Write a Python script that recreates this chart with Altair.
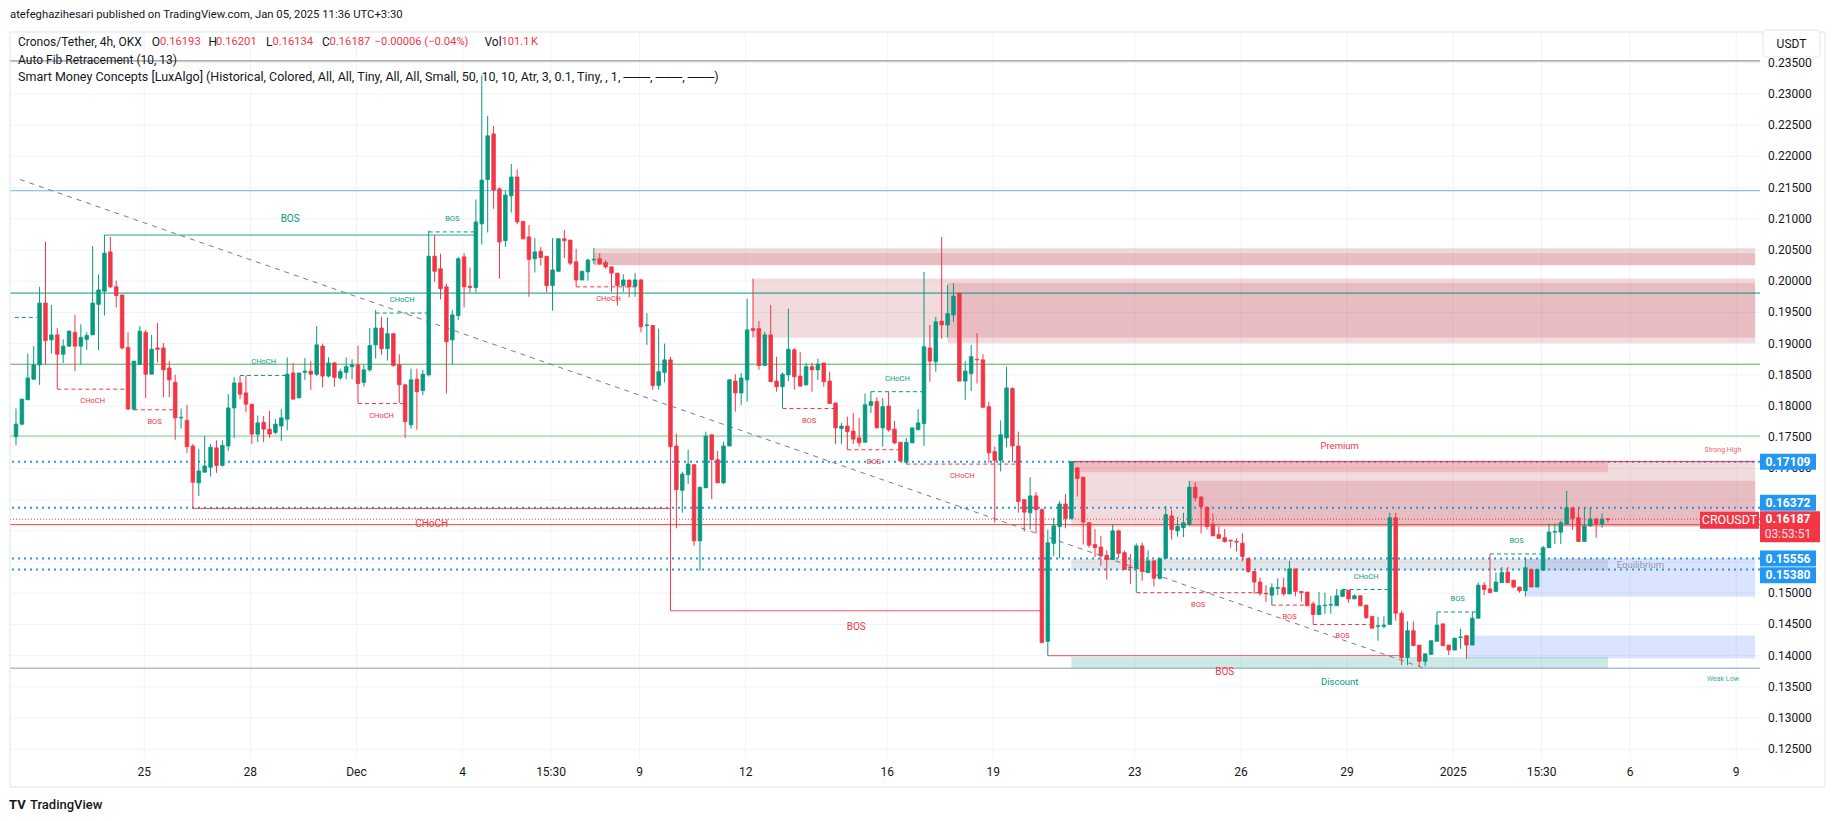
import altair as alt
import pandas as pd

# ---------------- candle data (CRO/USDT 4h) ----------------
OPEN = [0.1751,0.1771,0.1810,0.1843,0.1866,0.1965,0.1906,0.1914,0.1883,0.1896,
0.1918,0.1896,0.1907,0.1914,0.1963,0.1984,0.2047,0.1991,0.1978,0.1894,
0.1795,0.1867,0.1918,0.1851,0.1893,0.1893,0.1861,0.1838,0.1781,0.1777,
0.1736,0.1677,0.1694,0.1702,0.1733,0.1705,0.1736,0.1797,0.1837,0.1821,
0.1803,0.1755,0.1774,0.1763,0.1758,0.1768,0.1779,0.1853,0.1813,0.1854,
0.1856,0.1851,0.1896,0.1848,0.1869,0.1845,0.1854,0.1863,0.1866,0.1838,
0.1858,0.1898,0.1925,0.1892,0.1916,0.1866,0.1834,0.1770,0.1843,0.1825,
0.1850,0.2040,0.2020,0.1991,0.1906,0.1945,0.2039,0.1992,0.1990,0.2092,
0.2163,0.2236,0.2148,0.2065,0.2137,0.2167,0.2096,0.2071,0.2036,0.2048,
0.2040,0.1993,0.2016,0.2068,0.2066,0.2031,0.2002,0.2015,0.2034,0.2036,
0.2030,0.2023,0.2013,0.1993,0.2002,0.1992,0.2002,0.1929,0.1929,0.1833,
0.1854,0.1874,0.1736,0.1665,0.1690,0.1706,0.1584,0.1669,0.1754,0.1714,
0.1677,0.1736,0.1840,0.1821,0.1842,0.1924,0.1924,0.1865,0.1914,0.1840,
0.1831,0.1850,0.1890,0.1848,0.1834,0.1863,0.1858,0.1869,0.1840,0.1805,
0.1764,0.1768,0.1760,0.1749,0.1742,0.1801,0.1807,0.1765,0.1800,0.1763,
0.1742,0.1710,0.1741,0.1762,0.1772,0.1893,0.1871,0.1936,0.1930,0.1946,
0.1981,0.1840,0.1852,0.1875,0.1874,0.1799,0.1727,0.1713,0.1749,0.1828,
0.1736,0.1650,0.1629,0.1656,0.1634,0.1423,0.1580,0.1607,0.1643,0.1620,
0.1701,0.1686,0.1613,0.1578,0.1574,0.1561,0.1554,0.1600,0.1565,0.1542,
0.1540,0.1576,0.1533,0.1552,0.1524,0.1556,0.1624,0.1600,0.1605,0.1611,
0.1670,0.1654,0.1638,0.1611,0.1594,0.1589,0.1585,0.1583,0.1580,0.1556,
0.1535,0.1518,0.1500,0.1497,0.1508,0.1509,0.1499,0.1539,0.1503,0.1502,
0.1483,0.1466,0.1480,0.1481,0.1480,0.1495,0.1505,0.1491,0.1496,0.1481,
0.1463,0.1447,0.1447,0.1450,0.1621,0.1468,0.1397,0.1440,0.1417,0.1391,
0.1402,0.1423,0.1451,0.1417,0.1409,0.1429,0.1432,0.1417,0.1460,0.1513,
0.1507,0.1503,0.1517,0.1534,0.1521,0.1510,0.1504,0.1538,0.1510,0.1537,
0.1573,0.1598,0.1598,0.1611,0.1637,0.1621,0.1583,0.1608,0.1619,0.1611,
0.16193]

HIGH = [0.1796,0.1812,0.1884,0.1896,0.1991,0.2063,0.1962,0.1925,0.1907,0.1921,
0.1946,0.1931,0.1918,0.2056,0.2011,0.2074,0.2071,0.2001,0.1978,0.1918,
0.1872,0.1928,0.1922,0.1914,0.1933,0.1901,0.1872,0.1850,0.1796,0.1802,
0.1739,0.1731,0.1752,0.1739,0.1745,0.1745,0.1819,0.1846,0.1848,0.1849,
0.1803,0.1785,0.1784,0.1792,0.1779,0.1795,0.1878,0.1869,0.1853,0.1877,
0.1872,0.1928,0.1900,0.1878,0.1871,0.1860,0.1878,0.1875,0.1897,0.1866,
0.1925,0.1954,0.1943,0.1942,0.1916,0.1883,0.1836,0.1860,0.1860,0.1858,
0.2081,0.2074,0.2044,0.1996,0.1954,0.2039,0.2045,0.2022,0.2131,0.2330,
0.2265,0.2249,0.2150,0.2145,0.2188,0.2179,0.2096,0.2090,0.2069,0.2055,
0.2040,0.2069,0.2069,0.2082,0.2066,0.2052,0.2016,0.2036,0.2053,0.2045,
0.2034,0.2023,0.2013,0.2011,0.2002,0.2013,0.2004,0.1949,0.1929,0.1924,
0.1900,0.1879,0.1756,0.1695,0.1730,0.1707,0.1670,0.1759,0.1754,0.1728,
0.1743,0.1843,0.1851,0.1853,0.1972,0.2004,0.1936,0.1919,0.1962,0.1879,
0.1854,0.1956,0.1893,0.1887,0.1869,0.1869,0.1876,0.1869,0.1855,0.1805,
0.1773,0.1783,0.1789,0.1781,0.1820,0.1823,0.1814,0.1813,0.1823,0.1776,
0.1742,0.1749,0.1765,0.1795,0.2015,0.1930,0.1943,0.2071,0.1994,0.1997,
0.1981,0.1872,0.1898,0.1917,0.1883,0.1807,0.1735,0.1777,0.1863,0.1830,
0.1759,0.1650,0.1686,0.1662,0.1636,0.1602,0.1621,0.1648,0.1659,0.1711,
0.1701,0.1686,0.1613,0.1603,0.1592,0.1569,0.1611,0.1602,0.1568,0.1563,
0.1580,0.1581,0.1569,0.1552,0.1556,0.1640,0.1634,0.1622,0.1629,0.1680,
0.1678,0.1656,0.1638,0.1628,0.1607,0.1603,0.1586,0.1588,0.1596,0.1556,
0.1536,0.1525,0.1513,0.1516,0.1524,0.1525,0.1552,0.1539,0.1503,0.1502,
0.1487,0.1502,0.1501,0.1496,0.1507,0.1507,0.1505,0.1498,0.1496,0.1481,
0.1463,0.1462,0.1463,0.1629,0.1629,0.1472,0.1455,0.1455,0.1417,0.1403,
0.1424,0.1470,0.1451,0.1417,0.1428,0.1443,0.1432,0.1470,0.1517,0.1518,
0.1563,0.1533,0.1542,0.1542,0.1521,0.1510,0.1557,0.1538,0.1538,0.1576,
0.1612,0.1612,0.1616,0.1664,0.1637,0.1637,0.1637,0.1637,0.1621,0.1628,
0.16201]

LOW = [0.1737,0.1769,0.1810,0.1842,0.1834,0.1866,0.1884,0.1827,0.1869,0.1895,
0.1856,0.1867,0.1890,0.1914,0.1890,0.1945,0.1989,0.1958,0.1891,0.1795,
0.1793,0.1867,0.1813,0.1851,0.1870,0.1814,0.1814,0.1746,0.1764,0.1725,
0.1636,0.1656,0.1694,0.1687,0.1693,0.1703,0.1728,0.1749,0.1811,0.1790,
0.1739,0.1742,0.1742,0.1749,0.1755,0.1744,0.1761,0.1811,0.1813,0.1842,
0.1826,0.1848,0.1830,0.1846,0.1831,0.1842,0.1843,0.1843,0.1805,0.1831,
0.1855,0.1876,0.1882,0.1873,0.1863,0.1805,0.1749,0.1764,0.1762,0.1817,
0.1847,0.1999,0.1971,0.1820,0.1867,0.1938,0.1958,0.1982,0.1982,0.2059,
0.2078,0.2116,0.2004,0.2055,0.2110,0.2091,0.2067,0.1975,0.2014,0.2025,
0.1982,0.1953,0.2015,0.2037,0.2026,0.1991,0.2002,0.2001,0.2028,0.2026,
0.2020,0.1983,0.1961,0.1983,0.1974,0.1975,0.1918,0.1898,0.1826,0.1826,
0.1838,0.1472,0.1604,0.1629,0.1675,0.1576,0.1536,0.1669,0.1651,0.1677,
0.1675,0.1736,0.1791,0.1802,0.1807,0.1910,0.1858,0.1865,0.1839,0.1823,
0.1797,0.1840,0.1826,0.1831,0.1833,0.1823,0.1842,0.1831,0.1804,0.1739,
0.1739,0.1730,0.1739,0.1735,0.1742,0.1789,0.1765,0.1735,0.1759,0.1739,
0.1712,0.1707,0.1741,0.1762,0.1736,0.1839,0.1855,0.1908,0.1910,0.1935,
0.1840,0.1810,0.1824,0.1836,0.1798,0.1709,0.1613,0.1695,0.1734,0.1710,
0.1629,0.1599,0.1602,0.1596,0.1421,0.1400,0.1560,0.1556,0.1604,0.1618,
0.1655,0.1578,0.1573,0.1558,0.1544,0.1522,0.1554,0.1556,0.1538,0.1515,
0.1502,0.1520,0.1533,0.1511,0.1522,0.1556,0.1586,0.1591,0.1590,0.1608,
0.1647,0.1596,0.1602,0.1592,0.1588,0.1581,0.1573,0.1567,0.1551,0.1533,
0.1499,0.1496,0.1486,0.1481,0.1497,0.1496,0.1499,0.1495,0.1487,0.1480,
0.1451,0.1466,0.1467,0.1467,0.1480,0.1494,0.1485,0.1491,0.1479,0.1459,
0.1444,0.1424,0.1444,0.1450,0.1456,0.1385,0.1385,0.1416,0.1383,0.1383,
0.1402,0.1423,0.1416,0.1401,0.1409,0.1411,0.1395,0.1417,0.1460,0.1497,
0.1501,0.1503,0.1517,0.1517,0.1508,0.1501,0.1495,0.1510,0.1510,0.1537,
0.1573,0.1579,0.1579,0.1611,0.1602,0.1583,0.1583,0.1607,0.1589,0.1605,
0.16134]

CLOSE = [0.1771,0.1811,0.1845,0.1866,0.1965,0.1905,0.1914,0.1883,0.1896,0.1920,
0.1896,0.1910,0.1913,0.1965,0.1986,0.2045,0.1991,0.1977,0.1893,0.1795,
0.1872,0.1920,0.1851,0.1891,0.1891,0.1858,0.1842,0.1781,0.1782,0.1735,
0.1678,0.1696,0.1704,0.1734,0.1705,0.1737,0.1797,0.1837,0.1819,0.1803,
0.1755,0.1773,0.1763,0.1755,0.1771,0.1781,0.1851,0.1811,0.1853,0.1856,
0.1851,0.1898,0.1848,0.1869,0.1846,0.1855,0.1863,0.1866,0.1836,0.1858,
0.1897,0.1925,0.1892,0.1916,0.1865,0.1834,0.1775,0.1842,0.1823,0.1851,
0.2040,0.2016,0.1988,0.1903,0.1946,0.2036,0.1991,0.1990,0.2095,0.2162,
0.2233,0.2146,0.2063,0.2138,0.2167,0.2095,0.2068,0.2035,0.2047,0.2038,
0.1993,0.2018,0.2068,0.2065,0.2029,0.2002,0.2016,0.2034,0.2035,0.2028,
0.2023,0.2013,0.1993,0.2002,0.1991,0.2002,0.1927,0.1930,0.1833,0.1855,
0.1874,0.1735,0.1666,0.1691,0.1707,0.1584,0.1670,0.1752,0.1714,0.1677,
0.1736,0.1842,0.1821,0.1845,0.1922,0.1921,0.1865,0.1914,0.1839,0.1831,
0.1851,0.1891,0.1847,0.1832,0.1863,0.1858,0.1867,0.1839,0.1804,0.1765,
0.1768,0.1759,0.1747,0.1741,0.1802,0.1807,0.1765,0.1799,0.1762,0.1741,
0.1712,0.1742,0.1765,0.1773,0.1895,0.1872,0.1935,0.1930,0.1948,0.1976,
0.1840,0.1856,0.1879,0.1874,0.1798,0.1725,0.1713,0.1754,0.1829,0.1736,
0.1647,0.1630,0.1656,0.1634,0.1421,0.1581,0.1608,0.1643,0.1620,0.1711,
0.1684,0.1614,0.1577,0.1573,0.1560,0.1554,0.1600,0.1564,0.1538,0.1541,
0.1576,0.1535,0.1552,0.1524,0.1556,0.1626,0.1602,0.1607,0.1613,0.1670,
0.1653,0.1639,0.1607,0.1592,0.1588,0.1583,0.1584,0.1582,0.1559,0.1535,
0.1518,0.1500,0.1499,0.1509,0.1509,0.1499,0.1539,0.1503,0.1501,0.1480,
0.1466,0.1480,0.1481,0.1482,0.1496,0.1505,0.1491,0.1496,0.1480,0.1461,
0.1444,0.1448,0.1449,0.1621,0.1468,0.1397,0.1440,0.1416,0.1391,0.1403,
0.1424,0.1449,0.1416,0.1409,0.1428,0.1430,0.1417,0.1460,0.1513,0.1506,
0.1501,0.1518,0.1533,0.1517,0.1510,0.1504,0.1541,0.1510,0.1538,0.1573,
0.1598,0.1599,0.1613,0.1637,0.1620,0.1583,0.1608,0.1619,0.1611,0.1619,
0.16187]

# time axis labels (positions in bar units) and price axis ticks
TICK_POS = [21.75, 39.75, 57.75, 75.75, 90.75, 105.75, 123.75, 147.75, 165.75,
            189.75, 207.75, 225.75, 243.75, 258.75, 273.75, 291.75]
TICK_LABELS = ["25", "28", "Dec", "4", "15:30", "9", "12", "16", "19",
               "23", "26", "29", "2025", "15:30", "6", "9"]
PRICE_TICKS = [0.125, 0.130, 0.135, 0.140, 0.145, 0.150, 0.155, 0.160, 0.165, 0.170,
               0.175, 0.180, 0.185, 0.190, 0.195, 0.200, 0.205, 0.210, 0.215, 0.220,
               0.225, 0.230, 0.235]

# Auto Fib retracement levels
FIB_LEVELS = ["1", "0.786", "0.618", "0.5", "0.382", "0.236", "0"]
FIB_PRICES = [0.2353, 0.2145, 0.1981, 0.1867, 0.1752, 0.1610, 0.1380]

# dotted price lines shown on the axis
BLUE_LINE_PRICES = [0.17109, 0.16372, 0.15556, 0.15380]
LAST_PRICE = 0.16187

# dashed trend line (bar index, price)
TREND_X = [0.67, 238.8]
TREND_Y = [0.2163, 0.1380]

# market structure (Smart Money Concepts)
ST_X1 = [15, 30, 111, 175,
         -0.2, 38, 61, 70, 145, 225, 241, 250,
         7, 20, 58, 95, 130, 141, 151, 190, 213, 220]
ST_X2 = [78, 111, 174, 235,
         3.5, 46, 70, 78, 154, 233, 248, 259,
         19, 27, 66, 106, 139, 150, 170, 211, 219, 230]
ST_PRICE = [0.2074, 0.1636, 0.1472, 0.1400,
            0.1942, 0.1849, 0.1949, 0.2079, 0.1823, 0.1506, 0.1470, 0.1563,
            0.1827, 0.1794, 0.1804, 0.1991, 0.1796, 0.1730, 0.1707, 0.1501, 0.1481, 0.1450]
ST_LABEL = ["BOS", "CHoCH", "BOS", "BOS",
            "", "CHoCH", "CHoCH", "BOS", "CHoCH", "CHoCH", "BOS", "BOS",
            "CHoCH", "BOS", "CHoCH", "CHoCH", "BOS", "BOS", "CHoCH", "BOS", "BOS", "BOS"]
ST_SIDE = ["bull", "bear", "bear", "bear",
           "bull", "bull", "bull", "bull", "bull", "bull", "bull", "bull",
           "bear", "bear", "bear", "bear", "bear", "bear", "bear", "bear", "bear", "bear"]
ST_KIND = ["swing"] * 4 + ["internal"] * 18

# order blocks and zones (x2 = None -> extends to the right edge)
BOX_X1 = [98, 98, 125, 158, 179, 199, 256, 246, 179, 179, 179]
BOX_X2 = [None, None, None, None, None, None, None, None, 270, 270, 270]
BOX_TOP = [0.2053, 0.2045, 0.2004, 0.1997, 0.1711, 0.1680, 0.1556, 0.1432, 0.1711, 0.1555, 0.1398]
BOX_BOT = [0.2026, 0.2026, 0.1910, 0.1901, 0.1607, 0.1607, 0.1495, 0.1396, 0.1694, 0.1537, 0.1380]
BOX_KIND = ["bear_ob"] * 6 + ["bull_ob"] * 2 + ["premium", "equilibrium", "discount"]

ZONE_TEXT = ["Premium", "Equilibrium", "Discount"]
ZONE_X = [224.5, 271.5, 224.5]
ZONE_PRICE = [0.1736, 0.15455, 0.1358]
TRAIL_TEXT = ["Strong High", "Weak Low"]
TRAIL_X = [289.5, 289.5]
TRAIL_PRICE = [0.1730, 0.1362]

# ---------------- styling ----------------
FONT = "Roboto"
TXT = "#131722"
UP = "#089981"
DOWN = "#F23645"
BLUE = "#2196F3"
GRID = "#f0f3fa"
W, H = 1750, 726
XMIN, XMAX = -0.1686, 294.94
YMIN, YMAX = 0.123606, 0.239934
XS = alt.Scale(domain=[XMIN, XMAX], nice=False, zero=False)
YS = alt.Scale(domain=[YMIN, YMAX], nice=False, zero=False)

n = len(OPEN)
candles = pd.DataFrame({"i": list(range(n)), "open": OPEN, "high": HIGH,
                        "low": LOW, "close": CLOSE})
candles["dir"] = ["up" if c >= o else "down" for o, c in zip(OPEN, CLOSE)]

dir_scale = alt.Scale(domain=["up", "down"], range=[UP, DOWN])


def X(field):
    return alt.X(field, type="quantitative", scale=XS, axis=None)


def Y(field):
    return alt.Y(field, type="quantitative", scale=YS, axis=None)


layers = []

# ---- grid + axis labels drawn as marks ----
ptick = pd.DataFrame({"p": PRICE_TICKS})
ttick = pd.DataFrame({"pos": TICK_POS, "lab": TICK_LABELS})
layers.append(alt.Chart(ptick).mark_rule(color=GRID, strokeWidth=1).encode(y=Y("p")))
layers.append(alt.Chart(ttick).mark_rule(color=GRID, strokeWidth=1).encode(x=X("pos")))
layers.append(
    alt.Chart(ptick).mark_text(align="left", baseline="middle", fontSize=12, font=FONT, color=TXT)
    .encode(y=Y("p"), x=alt.value(1758), text=alt.Text("p:Q", format=".5f"))
)
layers.append(
    alt.Chart(ttick).mark_text(align="center", baseline="middle", fontSize=12, font=FONT, color=TXT)
    .encode(x=X("pos"), y=alt.value(740), text="lab:N")
)

# boxes
boxes = pd.DataFrame({"x1": BOX_X1, "x2": [XMAX if v is None else v for v in BOX_X2],
                      "top": BOX_TOP, "bot": BOX_BOT, "kind": BOX_KIND})
box_styles = {
    "bear_ob": ("#b22833", 0.16, 0.3),
    "bull_ob": ("#2962ff", 0.17, 0.3),
    "premium": ("#F23645", 0.2, 0.0),
    "equilibrium": ("#878b94", 0.22, 0.0),
    "discount": ("#089981", 0.2, 0.0),
}
for kind, (col, op, sop) in box_styles.items():
    layers.append(
        alt.Chart(boxes[boxes.kind == kind]).mark_rect(
            color=col, opacity=op, stroke=col, strokeOpacity=sop, strokeWidth=1, clip=True
        ).encode(x=X("x1"), x2="x2", y=Y("top"), y2="bot")
    )

# fib lines
fib = pd.DataFrame({"level": FIB_LEVELS, "price": FIB_PRICES})
fib_colors = ["#787B86", "#64B5F6", "#009688", "#4CAF50", "#81C784", "#F44336", "#8e97c8"]
layers.append(
    alt.Chart(fib).mark_rule(strokeWidth=1).encode(
        y=Y("price"),
        color=alt.Color("level:N", scale=alt.Scale(domain=FIB_LEVELS, range=fib_colors), legend=None),
    )
)

# dotted blue price lines
blue = pd.DataFrame({"price": BLUE_LINE_PRICES})
layers.append(
    alt.Chart(blue).mark_rule(color=BLUE, strokeWidth=2, strokeDash=[2, 4]).encode(y=Y("price"))
)

# trend line
trend = pd.DataFrame({"x": TREND_X, "y": TREND_Y})
layers.append(
    alt.Chart(trend).mark_line(color="#787B86", strokeWidth=1, strokeDash=[5, 5], clip=True)
    .encode(x=X("x"), y=Y("y"))
)

# structure lines
st = pd.DataFrame({"x1": ST_X1, "x2": ST_X2, "price": ST_PRICE, "label": ST_LABEL,
                   "side": ST_SIDE, "kind": ST_KIND})
st["xm"] = (st.x1 + st.x2) / 2
for kind in ["swing", "internal"]:
    for side, col in [("bull", UP), ("bear", DOWN)]:
        sub = st[(st.kind == kind) & (st.side == side)]
        dash = [1, 0] if kind == "swing" else [4, 3]
        layers.append(
            alt.Chart(sub).mark_rule(color=col, strokeWidth=1, strokeDash=dash, clip=True)
            .encode(x=X("x1"), x2="x2", y=Y("price"))
        )

# strong high line
sh = pd.DataFrame({"x1": [179], "x2": [XMAX], "price": [0.1711]})
layers.append(
    alt.Chart(sh).mark_rule(color=DOWN, strokeWidth=1, clip=True)
    .encode(x=X("x1"), x2="x2", y=Y("price"))
)

# candles
layers.append(
    alt.Chart(candles).mark_rule(strokeWidth=1).encode(
        x=X("i"), y=Y("low"), y2="high",
        color=alt.Color("dir:N", scale=dir_scale, legend=None),
    )
)
layers.append(
    alt.Chart(candles).mark_bar(size=3.6, strokeWidth=0.8).encode(
        x=X("i"), y=Y("open"), y2="close",
        color=alt.Color("dir:N", scale=dir_scale, legend=None),
        stroke=alt.Stroke("dir:N", scale=dir_scale, legend=None),
    )
)

# last price dotted red line
lp = pd.DataFrame({"price": [LAST_PRICE]})
layers.append(
    alt.Chart(lp).mark_rule(color=DOWN, strokeWidth=1, strokeDash=[1, 2]).encode(y=Y("price"))
)

# structure labels
for kind, size in [("swing", 10), ("internal", 7.5)]:
    for side, col, dy in [("bull", UP, -13 if kind == "internal" else -16),
                          ("bear", DOWN, 12 if kind == "internal" else 16)]:
        sub = st[(st.kind == kind) & (st.side == side) & (st.label != "")]
        layers.append(
            alt.Chart(sub).mark_text(color=col, fontSize=size, font=FONT, dy=dy,
                                     align="center", baseline="middle")
            .encode(x=X("xm"), y=Y("price"), text="label:N")
        )

# zone labels
zl = pd.DataFrame({"t": ZONE_TEXT, "x": ZONE_X, "p": ZONE_PRICE})
for t, col, al in [("Premium", DOWN, "center"), ("Equilibrium", "#9598a1", "left"),
                   ("Discount", UP, "center")]:
    layers.append(
        alt.Chart(zl[zl.t == t]).mark_text(color=col, fontSize=9.5, font=FONT, align=al,
                                           baseline="middle")
        .encode(x=X("x"), y=Y("p"), text="t:N")
    )
tl = pd.DataFrame({"t": TRAIL_TEXT, "x": TRAIL_X, "p": TRAIL_PRICE})
for t, col in [("Strong High", DOWN), ("Weak Low", UP)]:
    layers.append(
        alt.Chart(tl[tl.t == t]).mark_text(color=col, fontSize=7, font=FONT, align="center",
                                           baseline="middle", opacity=0.8)
        .encode(x=X("x"), y=Y("p"), text="t:N")
    )


# ---------- decorations in pixel space ----------
def txt(s, x, y, size=12, color=TXT, align="left", weight="normal", opacity=1.0):
    return alt.Chart(pd.DataFrame({"t": [s]})).mark_text(
        align=align, baseline="middle", fontSize=size, color=color, font=FONT,
        fontWeight=weight, opacity=opacity
    ).encode(x=alt.value(x), y=alt.value(y), text="t:N")


def box(x1, x2, y1, y2, fill, stroke, radius=0, fill_opacity=1.0):
    return alt.Chart(pd.DataFrame({"a": [0]})).mark_rect(
        fill=fill, stroke=stroke, strokeWidth=1, cornerRadius=radius, fillOpacity=fill_opacity
    ).encode(x=alt.value(x1), x2=alt.value(x2), y=alt.value(y1), y2=alt.value(y2))


# pane border
layers.append(box(0, 1815, 0, 755, "white", "#e0e3eb", fill_opacity=0))

# header + legend
layers.append(txt("atefeghazihesari published on TradingView.com, Jan 05, 2025 11:36 UTC+3:30",
                  0, -17, size=11.3))
layers.append(txt("Cronos/Tether, 4h, OKX", 8, 10))
for lab, lx, val, vx in [("O", 141.7, "0.16193", 150), ("H", 198.4, "0.16201", 206),
                         ("L", 256, "0.16134", 262.4), ("C", 312, "0.16187", 319.6)]:
    layers.append(txt(lab, lx, 10))
    layers.append(txt(val, vx, 10, size=11.2, color=DOWN))
layers.append(txt("\u22120.00006 (\u22120.04%)", 364.5, 10, size=11.2, color=DOWN))
layers.append(txt("Vol", 474.5, 10))
layers.append(txt("101.1\u202fK", 491.5, 10, size=11.2, color=DOWN))
layers.append(txt("Auto Fib Retracement (10, 13)", 8, 28))
layers.append(txt("Smart Money Concepts [LuxAlgo] (Historical, Colored, All, All, Tiny, All, All, "
                  "Small, 50, 10, 10, Atr, 3, 0.1, Tiny, , 1, \u2500\u2500\u2500, \u2500\u2500\u2500, "
                  "\u2500\u2500\u2500)", 8, 45, size=12.5))

# right-axis price tags
tag_specs = [(0.17109, 0), (0.16372, -5), (0.15556, 0), (0.15380, 5.7)]
for price, off in tag_specs:
    d = pd.DataFrame({"p": [price], "t": [f"{price:.5f}"]})
    layers.append(alt.Chart(d).mark_rule(color=BLUE, strokeWidth=16, yOffset=off)
                  .encode(y=Y("p"), x=alt.value(1750), x2=alt.value(1806)))
    layers.append(alt.Chart(d).mark_text(color="white", fontSize=12, font=FONT, fontWeight="bold",
                                         align="center", baseline="middle", yOffset=off)
                  .encode(y=Y("p"), x=alt.value(1778), text="t:N"))
lpd = pd.DataFrame({"p": [LAST_PRICE], "t": ["0.16187"], "c": ["03:53:51"], "s": ["CROUSDT"]})
layers.append(alt.Chart(lpd).mark_rule(color=DOWN, strokeWidth=31, yOffset=7.6)
              .encode(y=Y("p"), x=alt.value(1750), x2=alt.value(1810)))
layers.append(alt.Chart(lpd).mark_text(color="white", fontSize=12, font=FONT, fontWeight="bold",
                                       align="center", baseline="middle")
              .encode(y=Y("p"), x=alt.value(1778), text="t:N"))
layers.append(alt.Chart(lpd).mark_text(color="white", fontSize=12, font=FONT, opacity=0.85,
                                       align="center", baseline="middle", yOffset=15)
              .encode(y=Y("p"), x=alt.value(1778), text="c:N"))
layers.append(alt.Chart(lpd).mark_rule(color=DOWN, strokeWidth=17, yOffset=1)
              .encode(y=Y("p"), x=alt.value(1690), x2=alt.value(1749)))
layers.append(alt.Chart(lpd).mark_text(color="white", fontSize=12.5, font=FONT,
                                       align="center", baseline="middle", yOffset=1)
              .encode(y=Y("p"), x=alt.value(1719.5), text="s:N"))

# USDT box
layers.append(box(1753, 1810, -2, 25, "white", "#e0e3eb", radius=4))
layers.append(txt("USDT", 1781.5, 12, size=12, align="center"))

# TradingView logo
layers.append(txt("TV", -1, 773, size=13, weight="bold"))
layers.append(txt("TradingView", 20, 773, size=13, weight=500))

chart = alt.layer(*layers).properties(
    width=W, height=H,
    autosize=alt.AutoSizeParams(type="none"),
    padding={"left": 2, "top": 24, "right": 67, "bottom": 55},
).resolve_scale(color="independent", stroke="independent").configure(
    font=FONT, background="white"
).configure_view(strokeWidth=0)

chart.save("out.html", embed_options={"renderer": "svg", "actions": False})
